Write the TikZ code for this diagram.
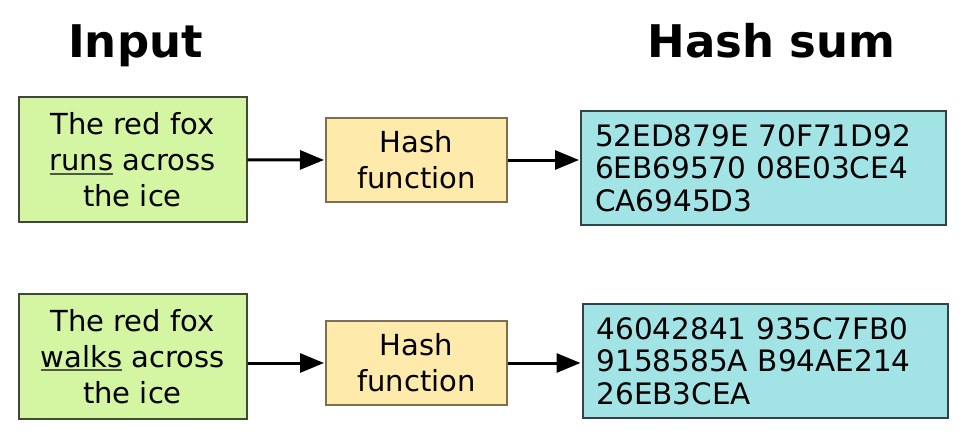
\documentclass[tikz,border=0pt]{standalone}
\usepackage{fontspec}
\setmainfont{DejaVu Sans}
\usetikzlibrary{arrows.meta}
\definecolor{inputfill}{HTML}{D4F5A2}
\definecolor{inputline}{HTML}{3F4A36}
\definecolor{hashfill}{HTML}{FEEAAA}
\definecolor{hashline}{HTML}{7E6E52}
\definecolor{sumfill}{HTML}{A2E4E6}
\definecolor{sumline}{HTML}{2E4446}
\definecolor{ulgray}{HTML}{4E5A48}
\def\uword#1{\setbox0=\hbox{#1}\rlap{\color{ulgray}\rule[-4pt]{\wd0}{1.8pt}}\box0\relax}
\tikzset{
	title/.style={font=\fontsize{45}{54}\selectfont\bfseries, anchor=base, inner sep=0pt},
	inputbox/.style={draw=inputline, fill=inputfill, line width=2pt, minimum width=228pt, minimum height=125pt, align=center, inner sep=0pt, font=\fontsize{29}{36}\selectfont},
	hashbox/.style={draw=hashline, fill=hashfill, line width=2pt, minimum width=181pt, minimum height=84pt, align=center, inner sep=0pt, font=\fontsize{29}{36}\selectfont},
	sumbox/.style={draw=sumline, fill=sumfill, line width=2pt, text width=337pt, minimum height=114pt, align=left, inner xsep=14pt, inner ysep=0pt, font=\fontsize{29.5}{32.5}\selectfont},
	flow/.style={line width=3pt, -{Triangle[length=24pt,width=19pt]}, shorten >=1pt}
}
\begin{document}
\begin{tikzpicture}[x=1pt,y=-1pt]
			%%%%% START %%%%%
			\useasboundingbox (0, 0) rectangle (963, 447);
			
			\node[title] (intitle) at (135.5, 57) {Input};
			\node[title] (sumtitle) at (771.5, 57) {Hash sum};
			
			% first row
			\node[inputbox] (in1) at (132.5, 159.75) {The red fox\\\uword{runs} across\\the ice};
			\node[hashbox] (hf1) at (416.5, 160) {Hash\\function};
			\node[sumbox] (out1) at (763.5, 168) {52ED879E 70F71D92\\6EB69570 08E03CE4\\CA6945D3};
			\draw[flow] (in1.east) -- (hf1.west);
			\draw[flow] (hf1.east) -- (hf1.east -| out1.west);
			
			% second row
			\node[inputbox] (in2) at (132.5, 356.25) {The red fox\\\uword{walks} across\\the ice};
			\node[hashbox] (hf2) at (416.5, 363) {Hash\\function};
			\node[sumbox] (out2) at (765, 361) {46042841 935C7FB0\\9158585A B94AE214\\26EB3CEA};
			\draw[flow] (in2.east |- hf2.west) -- (hf2.west);
			\draw[flow] (hf2.east) -- (hf2.east -| out2.west);
			%%%%% END %%%%%
\end{tikzpicture}
\end{document}
